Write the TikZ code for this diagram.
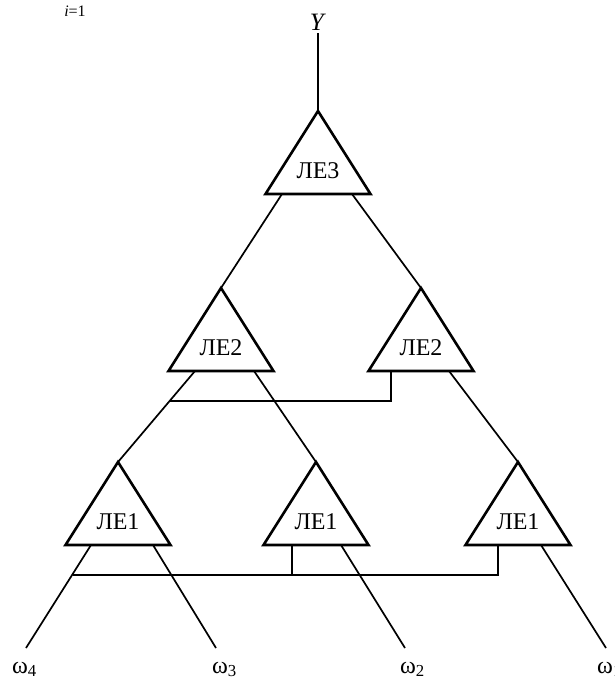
\documentclass[tikz,border=0pt]{standalone}
\usepackage{fontspec}
\setmainfont{Liberation Serif}

% A logic element: apex at (#2,#3), named #1, with label #4
\newcommand{\logicgate}[4]{%
  \coordinate (#1-t) at (#2,#3);
  \coordinate (#1-l) at (#2-52.5,#3+83);
  \coordinate (#1-r) at (#2+52.5,#3+83);
  \draw[gate] (#1-t) -- (#1-l) -- (#1-r) -- cycle;
  \node[gatelabel] (#1) at (#2,#3+60) {#4};
}

\begin{document}
\begin{tikzpicture}[x=1pt,y=-1pt,
  gate/.style={line width=2.6pt, line join=miter},
  wire/.style={line width=1.7pt},
  gatelabel/.style={font=\fontsize{24}{28}\selectfont, inner sep=0pt},
  sig/.style={font=\fontsize{24}{28}\selectfont, inner sep=0pt, anchor=base west}]
\useasboundingbox (0,0) rectangle (614,681);

% index note
\node[font=\fontsize{16}{19}\selectfont, inner sep=0pt] (idx) at (75,11) {\textit{i}=1};

% output
\node[font=\fontsize{25}{29}\selectfont, inner sep=3pt] (Y) at (318,22) {\textit{Y}};

% logic elements
\logicgate{g3}{318}{111}{ЛЕ3}
\logicgate{g2a}{221}{288}{ЛЕ2}
\logicgate{g2b}{421}{288}{ЛЕ2}
\logicgate{g1a}{118}{462}{ЛЕ1}
\logicgate{g1b}{316}{462}{ЛЕ1}
\logicgate{g1c}{518}{462}{ЛЕ1}

% input points on the bases
\coordinate (g3-i1) at (282,194);
\coordinate (g3-i2) at (352,194);
\coordinate (g2a-i1) at (195,371);
\coordinate (g2a-i2) at (254,371);
\coordinate (g2b-i1) at (391,371);
\coordinate (g2b-i2) at (449,371);
\coordinate (g1a-i1) at (91,545);
\coordinate (g1a-i2) at (153,545);
\coordinate (g1b-i1) at (292,545);
\coordinate (g1b-i2) at (341,545);
\coordinate (g1c-i1) at (498,545);
\coordinate (g1c-i2) at (541,545);

% bus junctions
\coordinate (busA-l) at (169.6,401);
\coordinate (busA-r) at (391,401);
\coordinate (busB-l) at (72.5,575);
\coordinate (busB-m) at (292,575);
\coordinate (busB-r) at (498,575);

% free ends of the input lines
\coordinate (e4) at (26,648);
\coordinate (e3) at (216,648);
\coordinate (e2) at (405,648);
\coordinate (e1) at (606,648);

% signal labels
\node[sig] (w4) at (12,673) {ω\textsubscript{4}};
\node[sig] (w3) at (212,673) {ω\textsubscript{3}};
\node[sig] (w2) at (400,673) {ω\textsubscript{2}};
\node[sig] (w1) at (597,673) {ω\textsubscript{1}};

% connections
\draw[wire] (Y) -- (g3-t);
\draw[wire] (g3-i1) -- (g2a-t);
\draw[wire] (g3-i2) -- (g2b-t);
\draw[wire] (g2a-i1) -- (g1a-t);
\draw[wire] (g2a-i2) -- (g1b-t);
\draw[wire] (g2b-i2) -- (g1c-t);
\draw[wire] (busA-l) -- (busA-r) -- (g2b-i1);
\draw[wire] (g1a-i1) -- (e4);
\draw[wire] (g1a-i2) -- (e3);
\draw[wire] (g1b-i2) -- (e2);
\draw[wire] (g1c-i2) -- (e1);
\draw[wire] (busB-l) -- (busB-r) -- (g1c-i1);
\draw[wire] (busB-m) -- (g1b-i1);
\end{tikzpicture}
\end{document}
